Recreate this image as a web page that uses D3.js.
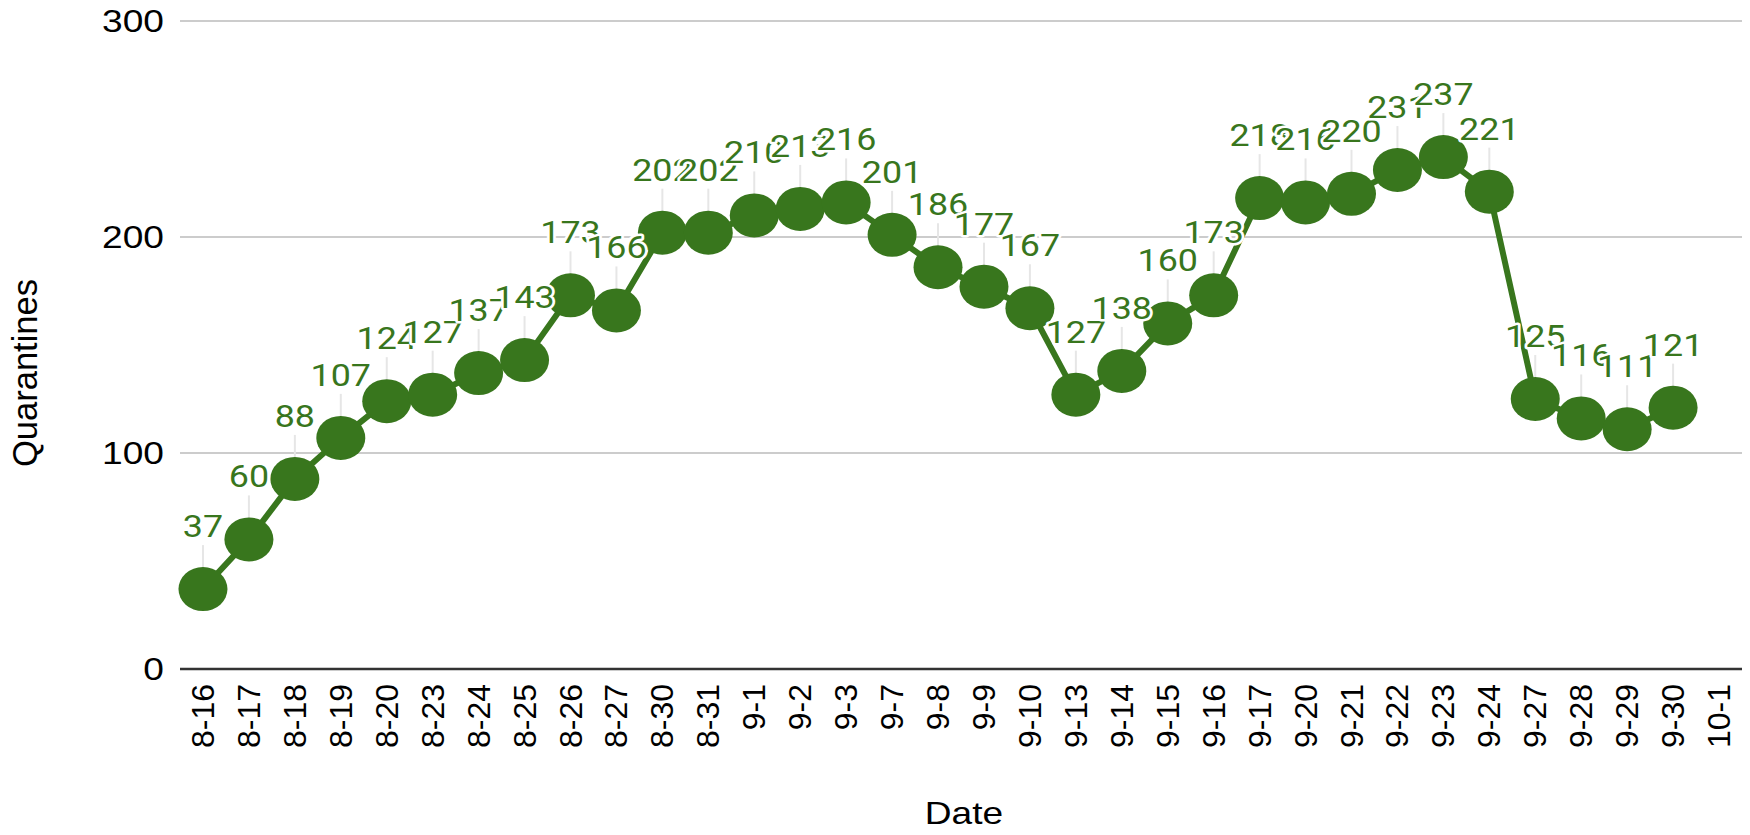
<!DOCTYPE html>
<html>
<head>
<meta charset="utf-8">
<script src="https://cdn.jsdelivr.net/npm/d3@7"></script>
<style>
  html, body { margin: 0; padding: 0; background: #fff; }
  svg { display: block; }
  .tick-label, .axis-title { font-family: "Liberation Sans", Arial, sans-serif; fill: #000; }
  .point-label { font-family: Roboto, "Noto Sans", sans-serif; fill: #38761d; }
</style>
</head>
<body>
<svg id="chart"></svg>
<script>
// Daily quarantine counts; the last date has no value.
const dates = ['8-16', '8-17', '8-18', '8-19', '8-20', '8-23', '8-24', '8-25', '8-26', '8-27',
  '8-30', '8-31', '9-1', '9-2', '9-3', '9-7', '9-8', '9-9', '9-10', '9-13', '9-14', '9-15',
  '9-16', '9-17', '9-20', '9-21', '9-22', '9-23', '9-24', '9-27', '9-28', '9-29', '9-30', '10-1'];
const quarantines = [37, 60, 88, 107, 124, 127, 137, 143, 173, 166, 202, 202, 210, 213, 216,
  201, 186, 177, 167, 127, 138, 160, 173, 218, 216, 220, 231, 237, 221, 125, 116, 111, 121, null];
const yTicks = [0, 100, 200, 300];

const WIDTH = 1750;
const HEIGHT = 835;
const GREEN = '#38761d';
const STRETCH = 1.16; // the reference text is drawn a little wide
const plot = { left: 180, right: 1742, top: 21, bottom: 669 };

const svg = d3.select('#chart').attr('width', WIDTH).attr('height', HEIGHT);

const x = d3.scaleBand().domain(dates).range([plot.left, plot.right]);
const y = d3.scaleLinear().domain([0, 300]).range([plot.bottom, plot.top]);
const cx = (d) => x(d) + x.bandwidth() / 2;

const points = dates
  .map((d, i) => ({ date: d, value: quarantines[i] }))
  .filter((p) => p.value != null);

// Gridlines (the zero line is drawn darker as the baseline).
svg.append('g')
  .selectAll('line')
  .data(yTicks.filter((t) => t > 0))
  .join('line')
  .attr('x1', plot.left)
  .attr('x2', plot.right)
  .attr('y1', (t) => y(t))
  .attr('y2', (t) => y(t))
  .attr('stroke', '#cccccc')
  .attr('stroke-width', 2);

svg.append('line')
  .attr('x1', plot.left)
  .attr('x2', plot.right)
  .attr('y1', y(0))
  .attr('y2', y(0))
  .attr('stroke', '#333')
  .attr('stroke-width', 2.5);

// Y tick labels
svg.append('g')
  .selectAll('text')
  .data(yTicks)
  .join('text')
  .attr('class', 'tick-label')
  .attr('transform', (t) => `translate(164,${y(t)}) scale(${STRETCH},1)`)
  .attr('text-anchor', 'end')
  .attr('dominant-baseline', 'central')
  .style('font-size', '32px')
  .text((t) => t);

// X tick labels, rotated
svg.append('g')
  .selectAll('text')
  .data(dates)
  .join('text')
  .attr('class', 'tick-label')
  .attr('transform', (d) => `translate(${cx(d)},684) rotate(-90)`)
  .attr('text-anchor', 'end')
  .attr('dominant-baseline', 'central')
  .style('font-size', '32px')
  .text((d) => d);

// Axis titles
svg.append('text')
  .attr('class', 'axis-title')
  .attr('transform', `translate(25,${(plot.top + plot.bottom) / 2 + 28}) rotate(-90)`)
  .attr('text-anchor', 'middle')
  .attr('dominant-baseline', 'central')
  .style('font-size', '34.5px')
  .text('Quarantines');

svg.append('text')
  .attr('class', 'axis-title')
  .attr('transform', `translate(${(plot.left + plot.right) / 2 + 3},824) scale(${STRETCH},1)`)
  .attr('text-anchor', 'middle')
  .style('font-size', '32px')
  .text('Date');

// Leader lines from label to point
svg.append('g')
  .selectAll('line')
  .data(points)
  .join('line')
  .attr('x1', (p) => cx(p.date))
  .attr('x2', (p) => cx(p.date))
  .attr('y1', (p) => y(p.value) - 44)
  .attr('y2', (p) => y(p.value))
  .attr('stroke', '#e6e6e6')
  .attr('stroke-width', 2);

// Series line
const line = d3.line()
  .x((p) => cx(p.date))
  .y((p) => y(p.value));

svg.append('path')
  .datum(points)
  .attr('d', line)
  .attr('fill', 'none')
  .attr('stroke', GREEN)
  .attr('stroke-width', 6)
  .attr('stroke-linejoin', 'round');

// Point markers (slightly wide ellipses)
svg.append('g')
  .selectAll('ellipse')
  .data(points)
  .join('ellipse')
  .attr('cx', (p) => cx(p.date))
  .attr('cy', (p) => y(p.value))
  .attr('rx', 24.5)
  .attr('ry', 22)
  .attr('fill', GREEN);

// Value labels with a white halo, drawn in order so later ones mask earlier
svg.append('g')
  .selectAll('text')
  .data(points)
  .join('text')
  .attr('class', 'point-label')
  .attr('transform', (p) => `translate(${cx(p.date)},${y(p.value) - 52}) scale(1.12,1)`)
  .attr('text-anchor', 'middle')
  .style('font-size', '32px')
  .attr('stroke', '#fff')
  .attr('stroke-width', 5)
  .attr('paint-order', 'stroke')
  .attr('stroke-linejoin', 'round')
  .text((p) => p.value);
</script>
</body>
</html>
